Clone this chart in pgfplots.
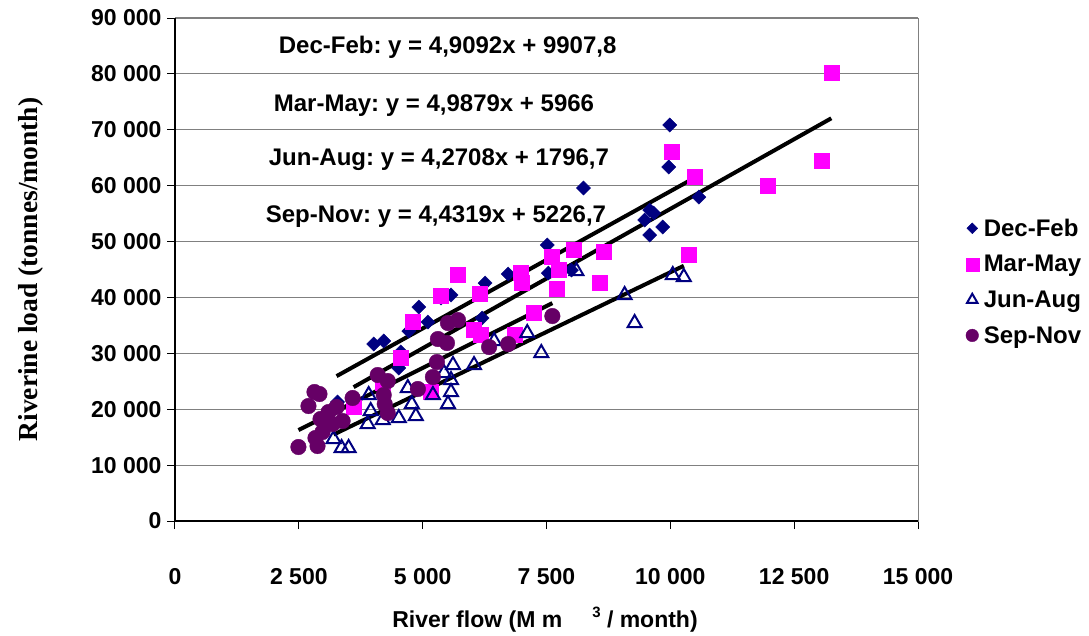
\documentclass[border=0pt]{standalone}
\usepackage{pgfplots}
\pgfplotsset{compat=1.18}
\usepackage{fontspec}
\setmainfont{Liberation Sans}
\newfontfamily\seriffont{Liberation Serif}
\definecolor{navyb}{HTML}{000080}
\definecolor{magp}{HTML}{FF00FF}
\definecolor{purp}{HTML}{660066}
\definecolor{gridg}{HTML}{808080}
\newcommand{\bigb}{\fontsize{23}{27}\selectfont\bfseries}
\frenchspacing
\begin{document}
\frenchspacing
\begin{tikzpicture}[x=1pt,y=1pt]
\path[use as bounding box] (-175,-114) rectangle (914,521);
\begin{axis}[at={(0,0)}, anchor=south west, scale only axis,
  width=743pt, height=503pt,
  xmin=0, xmax=15000, ymin=0, ymax=90000,
  clip=false, scaled ticks=false,
  xtick={0,2500,5000,7500,10000,12500,15000},
  xticklabels={0,2 500,5 000,7 500,10 000,12 500,15 000},
  ytick={0,10000,20000,30000,40000,50000,60000,70000,80000,90000},
  yticklabels={0,10 000,20 000,30 000,40 000,50 000,60 000,70 000,80 000,90 000},
  tick label style={font=\bigb},
  xticklabel style={yshift=-36pt},
  yticklabel style={xshift=-2pt},
  tick align=outside, major tick length=8pt,
  xtick pos=bottom, ytick pos=left,
  tick style={black, line width=1pt},
  axis line style={draw=gridg, line width=1pt},
  ymajorgrids, grid style={gridg, line width=1.2pt},
  legend style={at={(1.064,0.605)}, anchor=north west, draw=none, fill=none,
    font=\fontsize{24}{28}\selectfont\bfseries, row sep=13.5pt, inner sep=0pt, column sep=3pt},
  legend cell align=left,
]
\addplot[only marks, mark=square*, mark size=5pt, mark options={rotate=45, fill=navyb, draw=navyb},
  legend image post style={mark size=3.8pt}] coordinates {
(3282,21289) (4011,31665) (4214,32202) (4518,27372) (4559,30234) (4721,33991)
(4923,38285) (5106,35601) (5369,39895) (5572,40431) (6260,42578) (6200,36317)
(6726,44188) (7516,49376) (7537,44367) (8003,44904) (8246,59574) (9482,53849)
(9583,55638) (9664,55101) (9583,51165) (9846,52597) (9968,63329) (9988,70844)
(10576,57964)};
\addlegendentry{Dec-Feb}
\addplot[only marks, mark=square*, mark size=7.5pt, mark options={fill=magp, draw=magp},
  legend image post style={mark size=6.5pt}] coordinates {
(3606,20395) (4194,24688) (4559,29161) (4802,35601) (5166,23078) (5369,40252)
(5713,44009) (6159,40610) (6037,34170) (6179,33275) (6969,44367) (6990,42578)
(6848,33275) (7233,37211) (7598,47230) (7740,44904) (7699,41505) (8043,48482)
(8570,42578) (8651,48124) (10373,47587) (10029,66014) (10495,61542) (11974,59932)
(13047,64404) (13250,80147)};
\addlegendentry{Mar-May}
\addplot[only marks, mark=triangle, mark size=8pt, mark options={draw=navyb, line width=2pt, fill=white},
  legend image post style={mark size=6pt}] coordinates {
(3201,14670) (3363,13060) (3505,13060) (3910,22541) (3951,19679) (3890,17353)
(4194,18069) (4518,18427) (4700,23794) (4781,20931) (4862,18785) (5207,22541)
(5430,26477) (5572,25225) (5511,20931) (5572,23078) (5612,27908) (6037,27908)
(6443,32202) (7111,33633) (7395,30055) (8104,44725) (9077,40431) (9279,35422)
(10049,44009) (10272,43651)};
\addlegendentry{Jun-Aug}
\addplot[only marks, mark=*, mark size=7.8pt, mark options={fill=purp, draw=purp},
  legend image post style={mark size=6.3pt}] coordinates {
(2492,13239) (2877,13418) (2836,14849) (2695,20574) (2816,23078) (2917,22720)
(2938,18248) (2978,15922) (3100,19500) (3181,17353) (3262,20395) (3383,17890)
(3586,22005) (4093,26119) (4295,25046) (4214,22541) (4234,20931) (4295,19321)
(4903,23615) (5207,25762) (5288,28445) (5308,32560) (5511,35422) (5713,35959)
(5491,31844) (6341,31128) (6726,31665) (7618,36675)};
\addlegendentry{Sep-Nov}
\addplot[black, line width=4pt, forget plot] coordinates {(3262,25922) (10576,61828)};
\addplot[black, line width=4pt, forget plot] coordinates {(3606,23952) (13250,72056)};
\addplot[black, line width=4pt, forget plot] coordinates {(3201,15468) (10272,45666)};
\addplot[black, line width=4pt, forget plot] coordinates {(2492,16271) (7618,38989)};
\draw[black, line width=1.3pt] (rel axis cs:0,1) -- (rel axis cs:0,0) -- (rel axis cs:1,0);
\node[anchor=west, font=\fontsize{24}{28}\selectfont\bfseries] at (axis cs:2026,84800) {Dec-Feb: y = 4,9092x + 9907,8};
\node[anchor=west, font=\fontsize{24}{28}\selectfont\bfseries] at (axis cs:1925,74244) {Mar-May: y = 4,9879x + 5966};
\node[anchor=west, font=\fontsize{24}{28}\selectfont\bfseries] at (axis cs:1823,64583) {Jun-Aug: y = 4,2708x + 1796,7};
\node[anchor=west, font=\fontsize{24}{28}\selectfont\bfseries] at (axis cs:1763,54386) {Sep-Nov: y = 4,4319x + 5226,7};
\end{axis}
\node[font=\bigb, anchor=base] at (370,-106)
  {River flow (M m\hspace{30pt}\raisebox{10pt}{\fontsize{15}{17}\selectfont 3} / month)};
\node[font=\fontsize{27.5}{31}\selectfont\seriffont\bfseries, rotate=90, anchor=center]
  at (-144,251.5) {Riverine load (tonnes/month)};
\end{tikzpicture}
\end{document}
